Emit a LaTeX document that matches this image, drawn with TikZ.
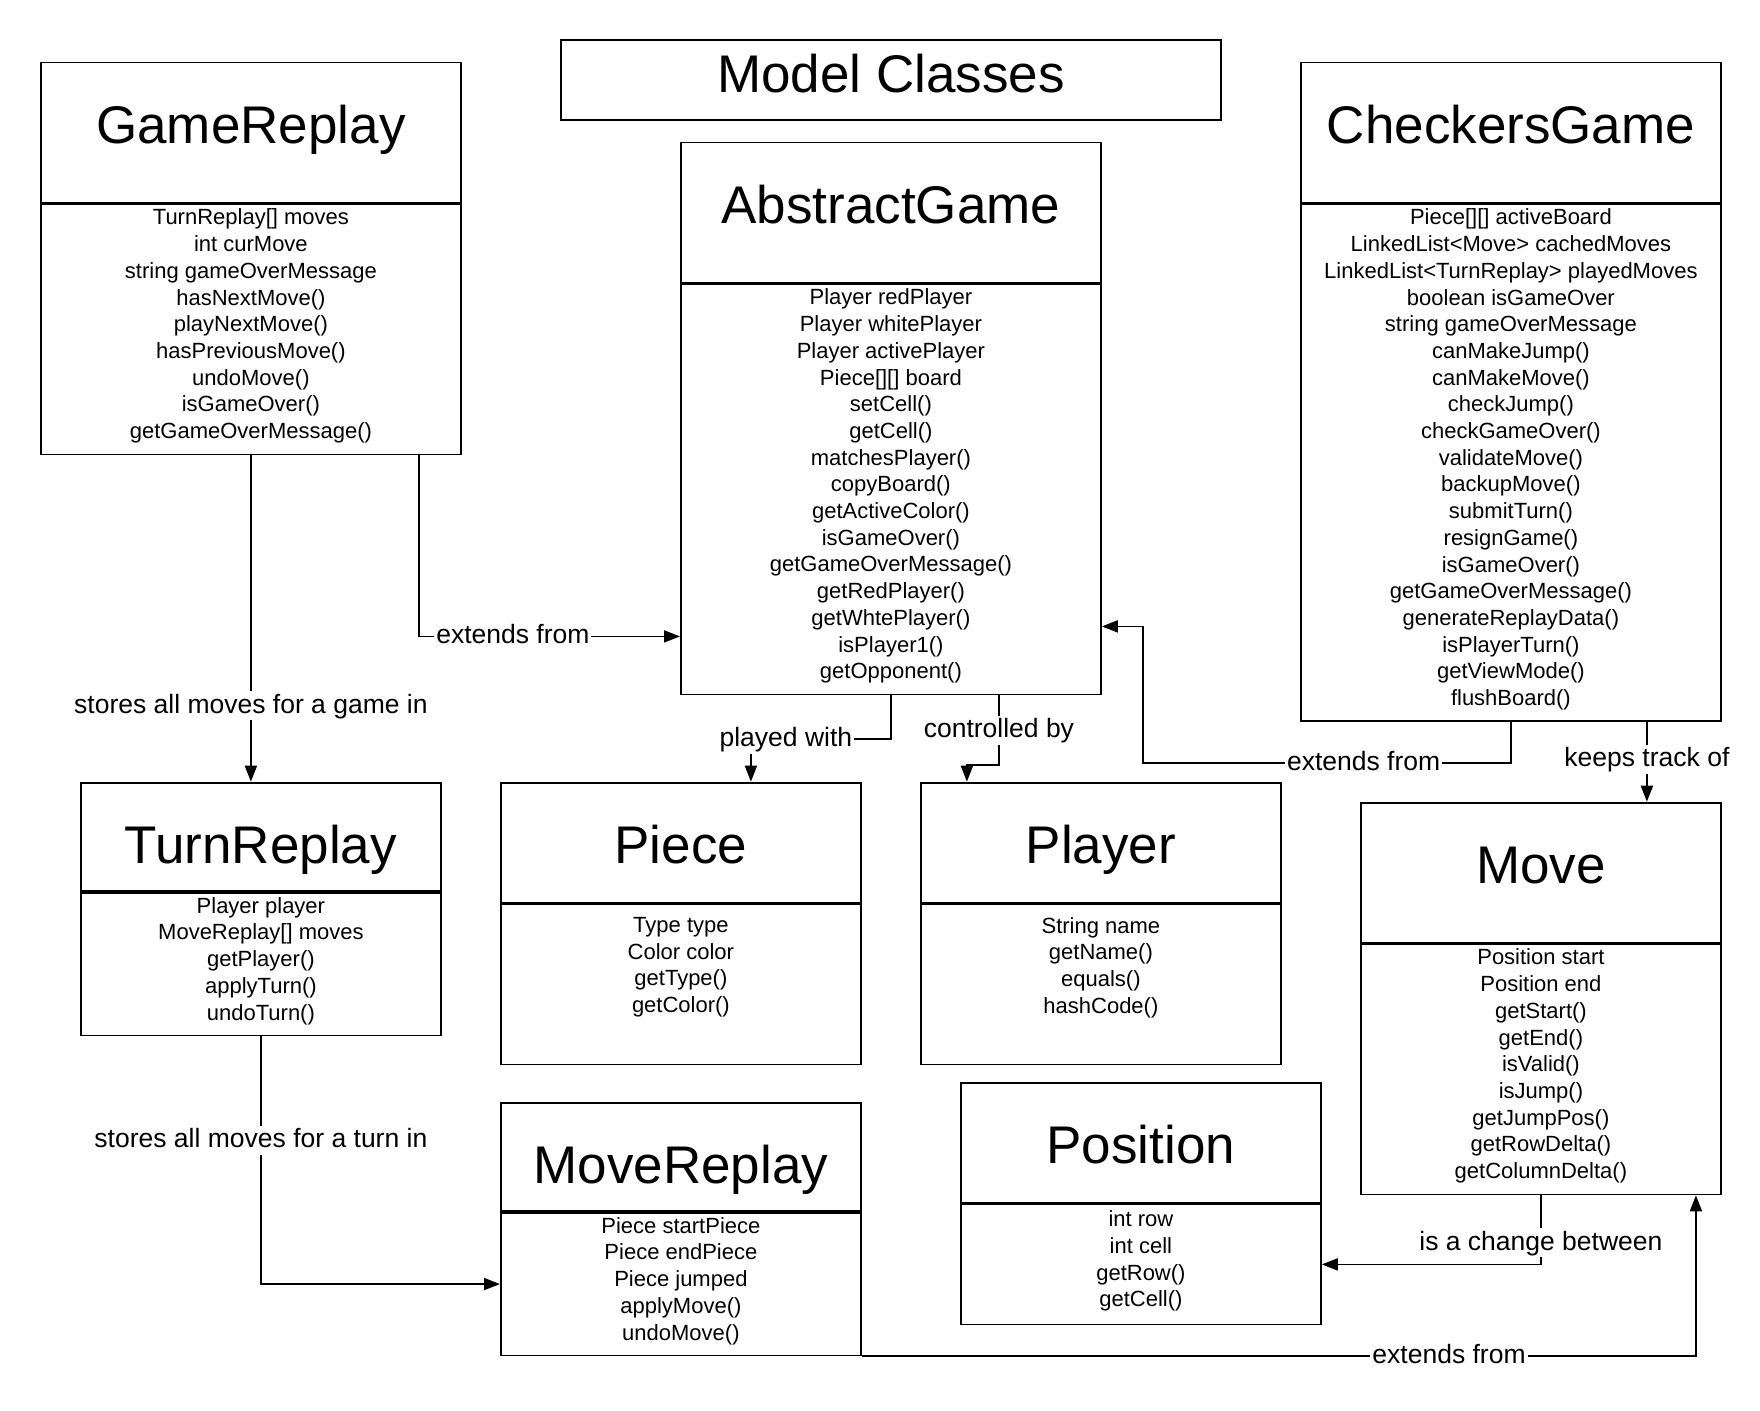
\documentclass[tikz,border=0pt]{standalone}
\usepackage{fontspec}
\setmainfont{Liberation Sans}
\usetikzlibrary{arrows.meta}
\newcommand\titlefont{\fontsize{53bp}{60bp}\selectfont}
\newcommand\attrfont{\fontsize{22bp}{26.7bp}\selectfont}
\newcommand\lblfont{\fontsize{26.5bp}{30bp}\selectfont}

\begin{document}
\begin{tikzpicture}[x=1bp,y=-1bp,line width=1.8bp,
    head/.style={draw, inner sep=0bp, text height=81bp, font=\titlefont, anchor=north west},
    body/.style={draw, inner sep=0bp, anchor=north},
    attr/.style={inner sep=0bp, align=center, font=\attrfont, anchor=north, execute at begin node=\strut},
    lbl/.style={fill=white, inner sep=2bp, font=\lblfont, text height=20bp, text depth=5bp},
    arr/.style={-{Triangle[length=16bp,width=12bp]}}]

  \fill[white] (0,0) rectangle (1760,1411);
  \path[use as bounding box] (0,0) rectangle (1760,1411);

  % title
  \node[draw, inner sep=0bp, minimum width=660bp, text height=52bp, text depth=28bp,
        font=\titlefont, anchor=north west] (MC) at (560,39.3) {Model Classes};

  % classes
  \node[head, minimum width=420bp, text depth=59bp] (GR) at (40,61.7) {GameReplay};
  \node[body, minimum width=420bp, minimum height=250bp] (GRb) at (GR.south) {};
  \node[attr] (GRt) at ([yshift=-4.6bp]GRb.north) {TurnReplay[] moves\\int curMove\\string gameOverMessage\\hasNextMove()\\playNextMove()\\hasPreviousMove()\\undoMove()\\isGameOver()\\getGameOverMessage()};

  \node[head, minimum width=420bp, text depth=59bp] (AG) at (680,141.7) {AbstractGame};
  \node[body, minimum width=420bp, minimum height=410bp] (AGb) at (AG.south) {};
  \node[attr] (AGt) at ([yshift=-4.6bp]AGb.north) {Player redPlayer\\Player whitePlayer\\Player activePlayer\\Piece[][] board\\setCell()\\getCell()\\matchesPlayer()\\copyBoard()\\getActiveColor()\\isGameOver()\\getGameOverMessage()\\getRedPlayer()\\getWhtePlayer()\\isPlayer1()\\getOpponent()};

  \node[head, minimum width=420bp, text depth=59bp] (CG) at (1300,61.7) {CheckersGame};
  \node[body, minimum width=420bp, minimum height=516.6bp] (CGb) at (CG.south) {};
  \node[attr] (CGt) at ([yshift=-4.6bp]CGb.north) {Piece[][] activeBoard\\LinkedList<Move> cachedMoves\\LinkedList<TurnReplay> playedMoves\\boolean isGameOver\\string gameOverMessage\\canMakeJump()\\canMakeMove()\\checkJump()\\checkGameOver()\\validateMove()\\backupMove()\\submitTurn()\\resignGame()\\isGameOver()\\getGameOverMessage()\\generateReplayData()\\isPlayerTurn()\\getViewMode()\\flushBoard()};

  \node[head, minimum width=360bp, text depth=27.3bp] (TR) at (80,781.7) {TurnReplay};
  \node[body, minimum width=360bp, minimum height=142.7bp] (TRb) at (TR.south) {};
  \node[attr] (TRt) at ([yshift=-4.6bp]TRb.north) {Player player\\MoveReplay[] moves\\getPlayer()\\applyTurn()\\undoTurn()};

  \node[head, minimum width=360bp, text depth=39bp] (PC) at (500,781.7) {Piece};
  \node[body, minimum width=360bp, minimum height=160bp] (PCb) at (PC.south) {};
  \node[attr] (PCt) at ([yshift=-12.9bp]PCb.north) {Type type\\Color color\\getType()\\getColor()};

  \node[head, minimum width=360bp, text depth=39bp] (PL) at (920,781.7) {Player};
  \node[body, minimum width=360bp, minimum height=160bp] (PLb) at (PL.south) {};
  \node[attr] (PLt) at ([yshift=-12.9bp]PLb.north) {String name\\getName()\\equals()\\hashCode()};

  \node[head, minimum width=360bp, text depth=59bp] (MV) at (1360,801.7) {Move};
  \node[body, minimum width=360bp, minimum height=250bp] (MVb) at (MV.south) {};
  \node[attr] (MVt) at ([yshift=-4.6bp]MVb.north) {Position start\\Position end\\getStart()\\getEnd()\\isValid()\\isJump()\\getJumpPos()\\getRowDelta()\\getColumnDelta()};

  \node[head, minimum width=360bp, text depth=27.3bp] (MR) at (500,1101.7) {MoveReplay};
  \node[body, minimum width=360bp, minimum height=142.7bp] (MRb) at (MR.south) {};
  \node[attr] (MRt) at ([yshift=-4.6bp]MRb.north) {Piece startPiece\\Piece endPiece\\Piece jumped\\applyMove()\\undoMove()};

  \node[head, minimum width=360bp, text depth=39bp] (PS) at (960,1081.7) {Position};
  \node[body, minimum width=360bp, minimum height=120bp] (PSb) at (PS.south) {};
  \node[attr] (PSt) at ([yshift=-6.3bp]PSb.north) {int row\\int cell\\getRow()\\getCell()};

  % relations
  \draw[arr] (GRb.south) -- (GRb.south |- TR.north)
        node[lbl, pos=0.768] (l1) {stores all moves for a game in};
  \draw[arr] ([xshift=168bp]GRb.south) |- ([yshift=-147bp]AGb.west)
        node[lbl, pos=0.68] (l2) {extends from};
  \draw[arr] (AGb.south) -- ++(0,44) -| node[lbl, pos=0.375] (l3) {played with} ([xshift=70bp]PC.north);
  \draw[arr] ([xshift=108bp]AGb.south) -- node[lbl, pos=0.5] (l4) {controlled by} ++(0,70)
        -| ([xshift=-134bp]PL.north);
  \draw[arr] (CGb.south) -- ++(0,41) -| node[lbl, pos=0.2] (l5) {extends from}
        ([xshift=41bp,yshift=-137bp]AGb.east) -- ([yshift=-137bp]AGb.east);
  \draw[arr] ([xshift=136bp]CGb.south) -- node[lbl, pos=0.47] (l6) {keeps track of} ([xshift=106bp]MV.north);
  \draw[arr] (TRb.south) |- node[lbl, pos=0.21] (l7) {stores all moves for a turn in} (MRb.west);
  \draw[arr] (MVb.south) |- node[lbl, pos=0.345] (l8) {is a change between} (PSb.east);
  \draw[arr] (MRb.south east) -| node[lbl, pos=0.352] (l9) {extends from} ([xshift=155bp]MVb.south);

\end{tikzpicture}
\end{document}
